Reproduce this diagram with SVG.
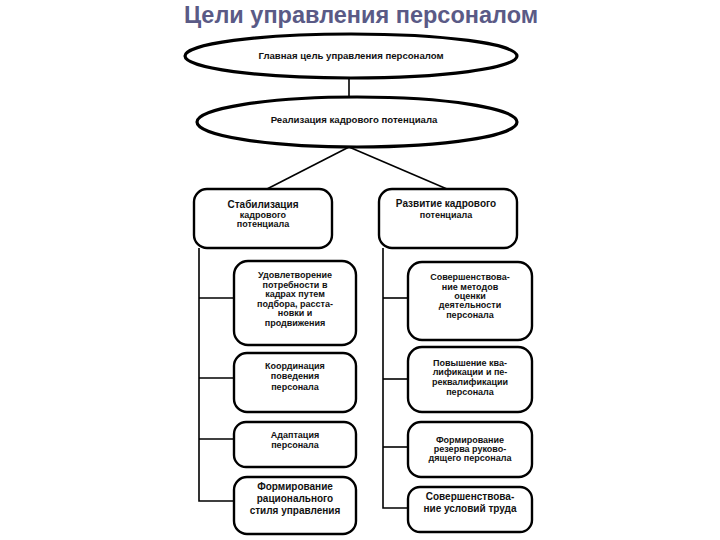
<svg xmlns="http://www.w3.org/2000/svg" width="720" height="540" viewBox="0 0 720 540">
<style>
.t{font-family:"Liberation Sans",Arial,sans-serif;font-weight:bold;font-size:9px;fill:#111;text-anchor:middle}
.p{font-size:10px}
.e{font-size:9.6px}
.ell{fill:#fff;stroke:#000;stroke-width:3.2}
.box{fill:#fff;stroke:#000;stroke-width:2.4}
.ln{fill:none;stroke:#000;stroke-width:1.6}
.title{font-family:"Liberation Sans",Arial,sans-serif;font-weight:bold;font-size:23.5px;fill:#5a5a86;text-anchor:middle}
</style>
<rect width="720" height="540" fill="#fff"/>
<text class="title" x="361" y="23">Цели управления персоналом</text>
<g id="connectors">
<line class="ln" x1="349" y1="77" x2="349" y2="98"/>
<line class="ln" x1="349" y1="147" x2="267" y2="189"/>
<line class="ln" x1="349" y1="147" x2="447" y2="189"/>
<polyline class="ln" points="199,248 199,501 234,501"/>
<line class="ln" x1="199" y1="298" x2="234" y2="298"/>
<line class="ln" x1="199" y1="378" x2="234" y2="378"/>
<line class="ln" x1="199" y1="439" x2="234" y2="439"/>
<polyline class="ln" points="383,248 383,508 408,508"/>
<line class="ln" x1="383" y1="298" x2="408" y2="298"/>
<line class="ln" x1="383" y1="379" x2="408" y2="379"/>
<line class="ln" x1="383" y1="447" x2="408" y2="447"/>
</g>
<g id="main-goal">
<ellipse class="ell" cx="351" cy="56" rx="166" ry="22"/>
<text class="t e" x="351" y="59">Главная цель управления персоналом</text>
</g>
<g id="realization">
<ellipse class="ell" cx="357" cy="122" rx="160" ry="25"/>
<text class="t e" x="354" y="123">Реализация кадрового потенциала</text>
</g>
<g id="stabilization">
<rect class="box" x="194" y="189" width="138" height="59" rx="13"/>
<text class="t p" x="263" y="208">Стабилизация</text>
<text class="t" x="263" y="218">кадрового</text>
<text class="t" x="263" y="227">потенциала</text>
</g>
<g id="development">
<rect class="box" x="379" y="189" width="138" height="59" rx="13"/>
<text class="t p" x="446" y="207">Развитие кадрового</text>
<text class="t" x="446" y="218">потенциала</text>
</g>
<g id="l1">
<rect class="box" x="234" y="261" width="122" height="84" rx="14"/>
<text class="t" x="295" y="278">Удовлетворение</text>
<text class="t" x="295" y="288">потребности в</text>
<text class="t" x="295" y="297">кадрах путем</text>
<text class="t" x="295" y="307">подбора, расста-</text>
<text class="t" x="295" y="316">новки и</text>
<text class="t" x="295" y="326">продвижения</text>
</g>
<g id="l2">
<rect class="box" x="234" y="353" width="122" height="59" rx="13"/>
<text class="t" x="295" y="369">Координация</text>
<text class="t" x="295" y="379">поведения</text>
<text class="t" x="295" y="390">персонала</text>
</g>
<g id="l3">
<rect class="box" x="234" y="422" width="122" height="45" rx="12"/>
<text class="t" x="295" y="438">Адаптация</text>
<text class="t" x="295" y="448">персонала</text>
</g>
<g id="l4">
<rect class="box" x="234" y="477" width="122" height="57" rx="13"/>
<text class="t p" x="295" y="490">Формирование</text>
<text class="t p" x="295" y="502">рационального</text>
<text class="t p" x="295" y="514">стиля управления</text>
</g>
<g id="r1">
<rect class="box" x="408" y="262" width="124" height="78" rx="14"/>
<text class="t" x="470" y="280">Совершенствова-</text>
<text class="t" x="470" y="290">ние методов</text>
<text class="t" x="470" y="299">оценки</text>
<text class="t" x="470" y="308">деятельности</text>
<text class="t" x="470" y="318">персонала</text>
</g>
<g id="r2">
<rect class="box" x="408" y="347" width="124" height="65" rx="14"/>
<text class="t" x="470" y="366">Повышение ква-</text>
<text class="t" x="470" y="375">лификации и пе-</text>
<text class="t" x="470" y="385">реквалификации</text>
<text class="t" x="470" y="395">персонала</text>
</g>
<g id="r3">
<rect class="box" x="408" y="422" width="124" height="55" rx="13"/>
<text class="t" x="470" y="443">Формирование</text>
<text class="t" x="470" y="452">резерва руково-</text>
<text class="t" x="470" y="461">дящего персонала</text>
</g>
<g id="r4">
<rect class="box" x="408" y="487" width="124" height="45" rx="12"/>
<text class="t p" x="470" y="500">Совершенствова-</text>
<text class="t p" x="470" y="512">ние условий труда</text>
</g>
</svg>
